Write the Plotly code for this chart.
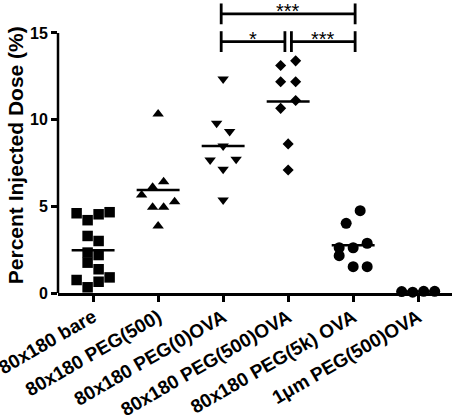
import plotly.graph_objects as go
import numpy as np

# ---------------- data ----------------
categories = ["80x180 bare", "80x180 PEG(500)", "80x180 PEG(0)OVA",
              "80x180 PEG(500)OVA", "80x180 PEG(5k) OVA", "1\u03bcm PEG(500)OVA"]
bare = [4.6, 4.2, 4.54, 4.66, 3.29, 3.0, 2.33, 2.19, 1.75, 1.37, 0.75, 0.33, 0.65, 0.9]
peg500 = [10.33, 6.1, 6.42, 5.65, 4.94, 4.94, 5.27, 3.87]
peg0_ova = [12.35, 9.79, 9.31, 8.48, 7.67, 7.14, 7.71, 5.37]
peg500_ova = [13.12, 13.39, 12.19, 12.19, 10.65, 11.1, 8.6, 7.1]
peg5k_ova = [4.02, 4.75, 2.61, 2.61, 2.87, 2.15, 1.52, 1.52]
um1_peg500_ova = [0.08, 0.05, 0.1, 0.1]
y_ticks = [0, 5, 10, 15]
y_title = "Percent Injected Dose (%)"
# significance comparisons: (group a, group b, label, level)
comparisons = [(2, 4, "***", 1), (2, 3, "*", 0), (3, 4, "***", 0)]

groups = [bare, peg500, peg0_ova, peg500_ova, peg5k_ova, um1_peg500_ova]

# ---------------- styling / layout ----------------
W, H = 458, 415
ml, mr, mt, mb = 58, 6, 0, 122
xr = [-0.54, 5.52]
yr = [0, 16.9]
px_per_x = (W - ml - mr) / (xr[1] - xr[0])
px_per_y = (H - mt - mb) / (yr[1] - yr[0])

symbols = ["square", "triangle-up", "triangle-down", "diamond", "circle", "circle"]
sizes = [10.5, 10, 10, 8.5, 11, 11]
spacing_px = [11, 11, 13, 15, 14, 11]
row_thresh = 0.75  # values closer than this share a row


def swarm_offsets(values, spacing):
    n = len(values)
    order = sorted(range(n), key=lambda i: values[i])
    rows, cur, start = [], [], None
    for i in order:
        if cur and values[i] - values[start] > row_thresh:
            rows.append(cur)
            cur = []
        if not cur:
            start = i
        cur.append(i)
    if cur:
        rows.append(cur)
    offs = [0.0] * n
    for row in rows:
        row = sorted(row)
        k = len(row)
        for j, i in enumerate(row):
            offs[i] = (j - (k - 1) / 2) * spacing
    return offs


font_b = "Liberation Sans, Arial, sans-serif"
fig = go.Figure()

for gi, vals in enumerate(groups):
    offs = swarm_offsets(vals, spacing_px[gi] / px_per_x)
    fig.add_trace(go.Scatter(
        x=[gi + o for o in offs], y=vals, mode="markers",
        marker=dict(symbol=symbols[gi], size=sizes[gi], color="black",
                    line=dict(width=0)),
        cliponaxis=False, showlegend=False, hoverinfo="y"))

# mean lines
mx, my = [], []
for gi, vals in enumerate(groups):
    m = float(np.mean(vals))
    mx += [gi - 0.33, gi + 0.33, None]
    my += [m, m, None]
fig.add_trace(go.Scatter(x=mx, y=my, mode="lines",
                         line=dict(color="black", width=2.5),
                         cliponaxis=False, showlegend=False, hoverinfo="skip"))

# y axis line only from 0 to 15
fig.add_shape(type="line", xref="paper", yref="y", x0=0, x1=0,
              y0=0, y1=max(y_ticks), line=dict(color="black", width=2.5))

# significance brackets
level_y = [14.5, 16.1]
tick_h = 0.6
inner_gap = 0.05
outer_pad = 0.03
for a, b, lab, lev in comparisons:
    yb = level_y[lev]
    x0 = a - outer_pad if a == min(c[0] for c in comparisons) else a + inner_gap
    x1 = b + outer_pad if b == max(c[1] for c in comparisons) else b - inner_gap
    lw = 2.8
    fig.add_shape(type="line", xref="x", yref="y", x0=x0, x1=x1, y0=yb, y1=yb,
                  line=dict(color="black", width=lw))
    for xe in (x0, x1):
        fig.add_shape(type="line", xref="x", yref="y", x0=xe, x1=xe,
                      y0=yb - tick_h, y1=yb + tick_h,
                      line=dict(color="black", width=lw))
    fig.add_annotation(x=(x0 + x1) / 2, y=yb, xref="x", yref="y", text=lab,
                       showarrow=False, yanchor="middle", yshift=3,
                       font=dict(family=font_b, size=20, color="black"))

# y title as annotation
fig.add_annotation(x=0, y=7.95, xref="paper", yref="y", text=y_title,
                   showarrow=False, textangle=-90, xanchor="center",
                   yanchor="middle", xshift=-43,
                   font=dict(family=font_b, size=21, color="black",
                             weight="bold"))

fig.update_layout(
    width=W, height=H, margin=dict(l=ml, r=mr, t=mt, b=mb),
    plot_bgcolor="white", paper_bgcolor="white", template="none",
    showlegend=False,
    xaxis=dict(range=xr, tickvals=list(range(len(categories))),
               ticktext=categories, tickangle=-30, ticks="outside",
               ticklen=6, tickwidth=2.5, tickcolor="black",
               showline=True, linecolor="black", linewidth=2.5,
               showgrid=False, zeroline=False, automargin=False,
               ticklabelstandoff=-3, ticklabeloverflow="allow",
               tickfont=dict(family=font_b, size=19, color="black",
                             weight="bold")),
    yaxis=dict(range=yr, tickvals=y_ticks, ticks="outside", ticklen=6,
               tickwidth=2.5, tickcolor="black", showline=False,
               showgrid=False, zeroline=False, automargin=False,
               tickfont=dict(family=font_b, size=16, color="black",
                             weight="bold")),
)

fig.write_html("out.html")
